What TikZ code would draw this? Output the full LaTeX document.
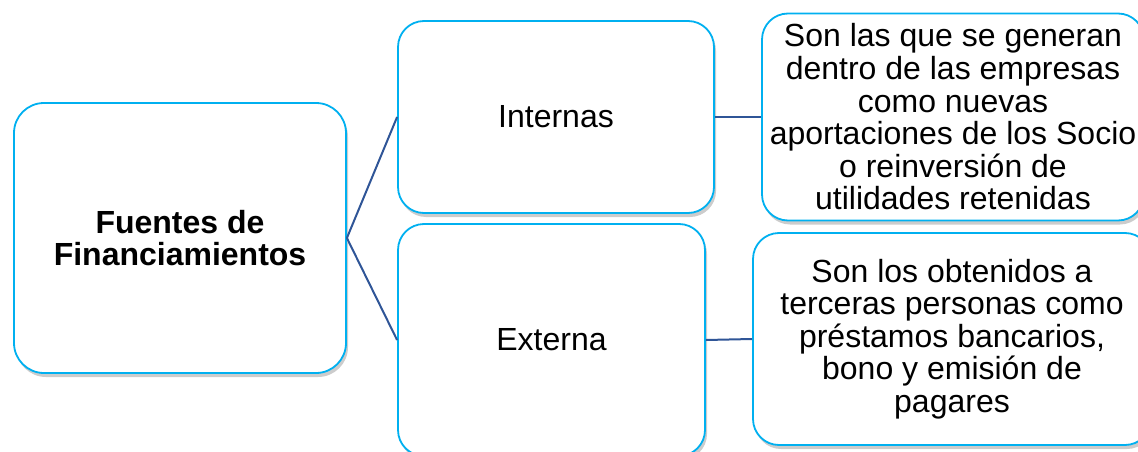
\documentclass[tikz,border=0pt]{standalone}
\usepackage{fontspec}
\setmainfont{Liberation Sans}
\usetikzlibrary{shadows}
\definecolor{borde}{HTML}{00B0F0}
\definecolor{linea}{HTML}{2F5597}
\tikzset{caja/.style={draw=borde,line width=1.8pt,fill=white,rounded corners=26pt,
	drop shadow={shadow xshift=2pt,shadow yshift=-4pt,opacity=0.4},
	align=center,inner sep=0pt,font=\fontsize{32}{32.6}\selectfont},
	rama/.style={draw=linea,line width=2pt}}

\begin{document}
\begin{tikzpicture}[x=1pt,y=-1pt]
			\useasboundingbox (0,0) rectangle (1138,452);
			
			\node[caja,minimum width=332pt,minimum height=270pt,rounded corners=30pt,font=\bfseries\fontsize{32}{32}\selectfont] (raiz) at (180,238) {Fuentes de\\Financiamientos};
			
			\node[caja,minimum width=316pt,minimum height=192pt] (interna) at (556,117) {Internas};
			\node[caja,minimum width=307pt,minimum height=232pt] (externa) at (551.5,340) {Externa};
			
			\node[caja,minimum width=382pt,minimum height=207pt] (descint) at (953,117) {Son las que se generan\\dentro de las empresas\\como nuevas\\aportaciones de los Socio\\o reinversión de\\utilidades retenidas};
			\node[caja,minimum width=398pt,minimum height=212pt] (descext) at (952,339) {Son los obtenidos a\\terceras personas como\\préstamos bancarios,\\bono y emisión de\\pagares};
			
			\draw[rama] (raiz.east) -- (interna.west);
			\draw[rama] (raiz.east) -- (externa.west);
			\draw[rama] (interna.east) -- (descint.west);
			\draw[rama] (externa.east) -- (descext.west);
			\end{tikzpicture}
\end{document}
